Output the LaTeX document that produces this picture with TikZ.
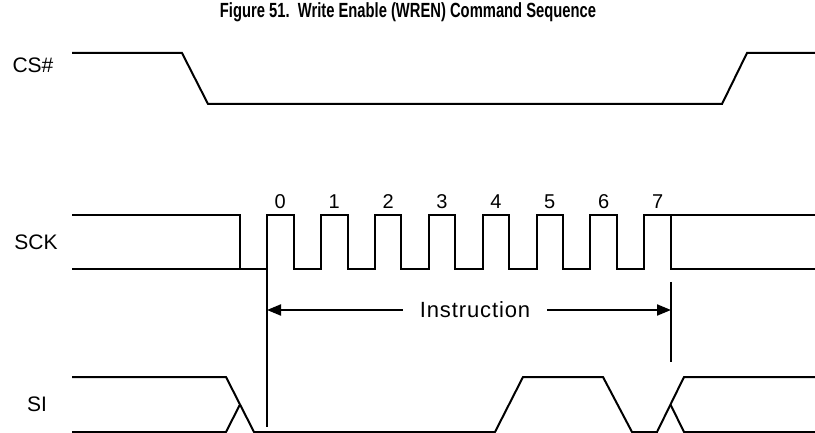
\documentclass[tikz,border=0pt]{standalone}
\usepackage{fontspec}
\setmainfont{Liberation Sans}
\newfontfamily\titlefont[FakeStretch=0.72]{Liberation Sans}
\usetikzlibrary{arrows.meta}

\begin{document}
\begin{tikzpicture}[x=1pt, y=-1pt, line width=2pt, line join=miter,
	lbl/.style={font=\fontsize{21}{21}\selectfont, inner sep=0pt},
	num/.style={font=\fontsize{20}{20}\selectfont, inner sep=0pt},
	dimarrow/.style={-{Triangle[length=14pt,width=11pt]}}]
	\useasboundingbox (0,0) rectangle (815,433);
	\node[font=\titlefont\bfseries\fontsize{20.5}{20.5}\selectfont, inner sep=0pt] (title) at (408,12)
		{Figure 51.\ \ Write Enable (WREN) Command Sequence};
	% signal names
	\node[lbl] (cs) at (33,65) {CS\#};
	\node[lbl] (sck) at (36,242) {SCK};
	\node[lbl] (si) at (37,404) {SI};
	% chip select
	\draw (72,53) -- (182,53) -- (208,104) -- (722,104) -- (747,53) -- (815,53);
	% clock
	\draw (72,215) -- (240,215) -- (240,269);
	\draw (72,269) -- (267,269)
		\foreach \k in {0,...,7} { -- ++(0,-54) -- ++(26.6,0) -- ++(0,54) -- ++(27.3,0) }
		-- (815,269);
	\draw (671,215) -- (815,215);
	\foreach \k in {0,...,7}
		\node[num] (n\k) at ({280.3+53.9*\k},202) {\k};
	% instruction window
	\coordinate (t0) at (267,427);
	\coordinate (t8) at (671,362);
	\draw (267,269) -- (t0);
	\draw (671,282) -- (t8);
	\node[lbl, font=\addfontfeature{LetterSpace=4}\fontsize{22}{22}\selectfont, inner xsep=16pt] (instr) at (475,310) {Instruction};
	\draw[dimarrow] (instr.west) -- (instr.west -| t0);
	\draw[dimarrow] (instr.east) -- (instr.east -| t8);
	% serial input
	\draw (72,377) -- (226,377) -- (254,432) -- (495,432) -- (523,377) -- (603,377)
		-- (632,432) -- (657,432) -- (684,377) -- (815,377);
	\draw (72,432) -- (226,432) -- (240,404.5);
	\draw (670.5,404.5) -- (684,432) -- (815,432);
\end{tikzpicture}
\end{document}
